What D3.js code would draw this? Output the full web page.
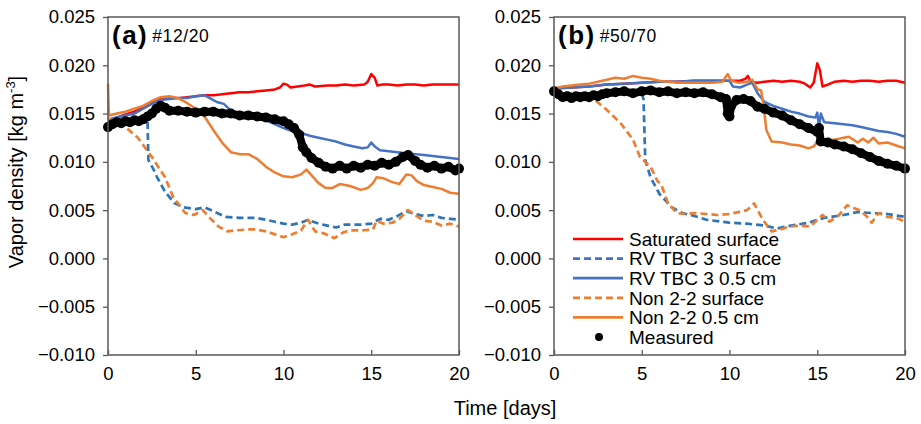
<!DOCTYPE html>
<html>
<head>
<meta charset="utf-8">
<script src="https://cdn.jsdelivr.net/npm/d3@7"></script>
<style>
  body { margin: 0; background: #fff; }
  text { font-family: "Liberation Sans", Arial, sans-serif; fill: #000; }
</style>
</head>
<body>
<svg id="chart" width="921" height="424"></svg>
<script>
// Data: [day, vapor density kg m-3]
const yTicks = [-0.010, -0.005, 0.000, 0.005, 0.010, 0.015, 0.020, 0.025];
const xTicks = [0, 5, 10, 15, 20];
const seriesNames = ['Saturated surface', 'RV TBC 3 surface', 'RV TBC 3 0.5 cm', 'Non 2-2 surface', 'Non 2-2 0.5 cm', 'Measured'];

// panel (a) #12/20
const satA = [[0,0.0143],[0.5,0.0146],[1,0.0149],[1.5,0.0152],[2,0.0156],[2.5,0.0161],[3,0.0165],[3.5,0.0166],[4,0.0166],[4.5,0.0167],[5,0.0168],[5.5,0.0169],[6,0.0169],[6.5,0.0170],[7,0.0171],[7.5,0.0172],[8,0.0172],[8.5,0.0173],[9,0.0174],[9.5,0.0175],[9.8,0.0177],[10,0.0181],[10.2,0.0180],[10.4,0.0177],[10.8,0.0178],[11.2,0.0179],[11.5,0.0180],[11.8,0.0178],[12.5,0.0179],[13,0.0179],[13.5,0.0180],[14,0.0179],[14.6,0.0180],[14.8,0.0183],[15,0.0191],[15.2,0.0187],[15.35,0.0179],[15.6,0.0180],[16,0.0180],[16.5,0.0179],[17,0.0180],[17.5,0.0180],[18,0.0179],[18.5,0.0180],[19,0.0180],[19.5,0.0180],[20,0.0180]];
const rvSurfA = [[0,0.0143],[0.5,0.0143],[1,0.0143],[1.5,0.0145],[2,0.0147],[2.25,0.0145],[2.3,0.0102],[2.6,0.0092],[2.8,0.0084],[3.25,0.0069],[3.8,0.0057],[4.3,0.0053],[5,0.0051],[5.5,0.0053],[6,0.0049],[6.7,0.0043],[7.5,0.0042],[8.4,0.0042],[9,0.0040],[10,0.0036],[10.5,0.0035],[11,0.0037],[11.4,0.0040],[12,0.0036],[12.5,0.0034],[13,0.0032],[13.5,0.0035],[14.4,0.0035],[15,0.0036],[15.5,0.0041],[16,0.0040],[16.5,0.0044],[17,0.0049],[17.5,0.0046],[18,0.0044],[18.5,0.0045],[19,0.0042],[19.5,0.0041],[20,0.0040]];
const rv05A = [[0,0.0144],[0.5,0.0146],[1,0.0148],[1.5,0.0150],[2,0.0155],[2.5,0.0160],[3,0.0164],[3.5,0.0165],[4,0.0166],[4.5,0.0166],[5,0.0168],[5.5,0.0169],[5.8,0.0166],[6.2,0.0162],[6.6,0.0160],[7,0.0153],[7.5,0.0150],[8,0.0148],[8.5,0.0146],[9,0.0143],[9.5,0.0139],[10,0.0135],[10.5,0.0132],[11,0.0130],[11.5,0.0127],[12,0.0125],[12.5,0.0123],[13,0.0121],[13.5,0.0118],[14,0.0116],[14.5,0.0114],[14.8,0.0115],[15,0.0120],[15.2,0.0116],[15.5,0.0112],[16,0.0111],[16.5,0.0110],[17,0.0109],[17.5,0.0108],[18,0.0107],[18.5,0.0106],[19,0.0105],[19.5,0.0104],[20,0.0103]];
const nonSurfA = [[0,0.0145],[0.5,0.0141],[1,0.0136],[1.7,0.0125],[2.5,0.0105],[3.25,0.0084],[3.7,0.0064],[4.4,0.0047],[4.9,0.0045],[5.4,0.0050],[5.8,0.0042],[6.3,0.0033],[6.8,0.0028],[7.2,0.0029],[8,0.0030],[8.4,0.0030],[9,0.0028],[9.5,0.0025],[10,0.0022],[10.5,0.0025],[11,0.0029],[11.4,0.0040],[11.8,0.0028],[12.3,0.0026],[12.9,0.0021],[13.4,0.0027],[13.8,0.0029],[14.4,0.0029],[15.1,0.0030],[15.3,0.0039],[15.7,0.0036],[16.2,0.0037],[16.6,0.0041],[17.1,0.0050],[17.5,0.0045],[18,0.0039],[18.5,0.0038],[19,0.0034],[19.5,0.0036],[20,0.0033]];
const non05A = [[0,0.0181],[0.05,0.0148],[0.5,0.0150],[1,0.0152],[1.5,0.0155],[2,0.0158],[2.5,0.0163],[3,0.0167],[3.5,0.0168],[4,0.0166],[4.5,0.0161],[5,0.0155],[5.5,0.0147],[6,0.0133],[6.5,0.0120],[7,0.0110],[7.5,0.0108],[8,0.0108],[8.5,0.0103],[9,0.0095],[9.5,0.0089],[10,0.0085],[10.5,0.0084],[11,0.0087],[11.3,0.0092],[11.6,0.0086],[12,0.0078],[12.4,0.0073],[12.8,0.0073],[13.2,0.0077],[13.8,0.0075],[14.4,0.0071],[14.8,0.0073],[15.1,0.0078],[15.3,0.0084],[15.7,0.0083],[16.2,0.0079],[16.6,0.0077],[17,0.0087],[17.3,0.0086],[17.6,0.0080],[18,0.0076],[18.5,0.0074],[19,0.0072],[19.5,0.0068],[20,0.0067]];
const measA = [[0,0.0136],[0.25,0.0139],[0.5,0.0141],[0.75,0.0140],[1,0.0142],[1.25,0.0141],[1.5,0.0143],[1.75,0.0142],[2,0.0144],[2.25,0.0147],[2.5,0.0150],[2.75,0.0155],[3,0.0158],[3.25,0.0156],[3.5,0.0153],[4,0.0153],[4.5,0.0152],[5,0.0151],[5.5,0.0152],[6,0.0152],[6.5,0.0150],[7,0.0150],[7.5,0.0148],[8,0.0148],[8.5,0.0147],[9,0.0146],[9.5,0.0144],[10,0.0142],[10.3,0.0139],[10.6,0.0135],[10.9,0.0128],[11.1,0.0115],[11.3,0.0110],[11.6,0.0104],[12,0.0099],[12.4,0.0095],[12.8,0.0093],[13.2,0.0096],[13.6,0.0093],[14,0.0096],[14.4,0.0094],[14.8,0.0097],[15.2,0.0096],[15.6,0.0099],[16,0.0097],[16.4,0.0100],[16.8,0.0105],[17.1,0.0107],[17.5,0.0101],[17.8,0.0097],[18.2,0.0094],[18.6,0.0096],[19,0.0093],[19.4,0.0095],[19.8,0.0091],[20,0.0093]];

// panel (b) #50/70
const satB = [[0,0.0176],[1,0.0177],[2,0.0178],[3,0.0180],[4,0.0181],[5,0.0182],[6,0.0183],[7,0.0183],[8,0.0184],[9,0.0184],[10,0.0184],[10.6,0.0184],[10.9,0.0186],[11.05,0.0189],[11.2,0.0183],[11.6,0.0182],[12,0.0183],[12.5,0.0184],[13,0.0183],[13.5,0.0184],[14,0.0183],[14.3,0.0181],[14.6,0.0177],[14.8,0.0182],[15,0.0202],[15.15,0.0195],[15.3,0.0178],[15.6,0.0180],[16,0.0183],[16.5,0.0184],[17,0.0183],[17.5,0.0184],[18,0.0184],[18.5,0.0183],[19,0.0184],[19.5,0.0184],[20,0.0182]];
const rvSurfB = [[0,0.0172],[1,0.0171],[2,0.0171],[3,0.0172],[4,0.0172],[5,0.0171],[5.1,0.0165],[5.2,0.0102],[5.5,0.0084],[6,0.0067],[6.7,0.0053],[7.3,0.0047],[8,0.0044],[8.7,0.0040],[10,0.0037],[11,0.0036],[12,0.0034],[12.7,0.0031],[13.5,0.0034],[14.5,0.0037],[15.4,0.0042],[16.5,0.0045],[17.3,0.0048],[18.1,0.0047],[19,0.0046],[20,0.0043]];
const rv05B = [[0,0.0176],[1,0.0177],[2,0.0178],[3,0.0180],[4,0.0181],[5,0.0182],[6,0.0183],[7,0.0183],[8,0.0184],[9,0.0184],[10,0.0184],[10.2,0.0178],[10.6,0.0177],[11,0.0180],[11.3,0.0182],[11.6,0.0171],[12,0.0162],[12.5,0.0158],[13,0.0155],[13.5,0.0152],[14,0.0150],[14.5,0.0147],[14.9,0.0146],[15,0.0151],[15.1,0.0136],[15.2,0.0150],[15.4,0.0141],[16,0.0140],[16.5,0.0139],[17,0.0138],[17.5,0.0136],[18,0.0134],[18.5,0.0132],[19,0.0131],[19.5,0.0129],[20,0.0126]];
const nonSurfB = [[0,0.0172],[1,0.0170],[2,0.0169],[2.2,0.0166],[3,0.0154],[3.8,0.0140],[4.5,0.0123],[4.9,0.0105],[5.5,0.0095],[5.9,0.0080],[6.1,0.0077],[6.5,0.0057],[7,0.0047],[7.5,0.0046],[8,0.0047],[8.7,0.0046],[9.3,0.0045],[10,0.0046],[10.5,0.0048],[11,0.0050],[11.4,0.0057],[11.9,0.0040],[12.4,0.0028],[12.9,0.0030],[13.4,0.0033],[14,0.0034],[14.6,0.0033],[15.3,0.0045],[15.7,0.0038],[16.2,0.0044],[16.7,0.0055],[17,0.0053],[17.4,0.0050],[17.8,0.0044],[18.1,0.0037],[18.5,0.0047],[19,0.0043],[19.5,0.0042],[20,0.0038]];
const non05B = [[0,0.0176],[0.5,0.0178],[1,0.0179],[1.5,0.0180],[2,0.0181],[2.5,0.0183],[3,0.0185],[3.5,0.0187],[4,0.0186],[4.5,0.0189],[5,0.0187],[5.5,0.0186],[6,0.0184],[6.5,0.0183],[7,0.0182],[8,0.0182],[9,0.0182],[9.6,0.0183],[9.9,0.0191],[10.1,0.0184],[10.5,0.0182],[11,0.0183],[11.3,0.0185],[11.6,0.0175],[11.8,0.0174],[11.95,0.0157],[12.1,0.0133],[12.4,0.0121],[13,0.0120],[13.5,0.0118],[14,0.0117],[14.5,0.0114],[14.8,0.0116],[15,0.0121],[15.4,0.0123],[16,0.0123],[16.5,0.0125],[16.8,0.0126],[17.3,0.0120],[17.6,0.0124],[17.9,0.0120],[18.2,0.0125],[18.5,0.0119],[19,0.0120],[19.5,0.0117],[20,0.0114]];
const measB = [[0,0.0173],[0.25,0.0170],[0.5,0.0167],[0.75,0.0168],[1,0.0166],[1.25,0.0168],[1.5,0.0167],[1.75,0.0168],[2,0.0167],[2.25,0.0169],[2.5,0.0168],[2.75,0.0170],[3,0.0171],[3.5,0.0172],[4,0.0173],[4.5,0.0171],[5,0.0173],[5.5,0.0174],[6,0.0172],[6.5,0.0173],[7,0.0171],[7.5,0.0172],[8,0.0171],[8.5,0.0172],[9,0.0170],[9.5,0.0167],[9.8,0.0165],[9.9,0.0150],[10,0.0147],[10.1,0.0158],[10.4,0.0164],[10.8,0.0165],[11.2,0.0163],[11.6,0.0157],[12,0.0155],[12.5,0.0151],[13,0.0148],[13.5,0.0143],[14,0.0139],[14.5,0.0135],[15,0.0131],[15.1,0.0135],[15.2,0.0121],[15.6,0.0120],[16,0.0118],[16.5,0.0116],[17,0.0113],[17.5,0.0109],[18,0.0105],[18.5,0.0101],[19,0.0098],[19.5,0.0096],[20,0.0093]];

const panels = [
  { tag: '(a)', id: '#12/20', left: 108, series: [satA, rvSurfA, rv05A, nonSurfA, non05A, measA], legend: false },
  { tag: '(b)', id: '#50/70', left: 554, series: [satB, rvSurfB, rv05B, nonSurfB, non05B, measB], legend: true }
];

// styles for the six series, same order as seriesNames
const styles = [
  { color: '#FF0000', dash: null, width: 2.5 },
  { color: '#2E75B6', dash: '7,4', width: 2.7 },
  { color: '#4472C4', dash: null, width: 2.5 },
  { color: '#ED7D31', dash: '7,4', width: 2.7 },
  { color: '#ED7D31', dash: null, width: 2.5 },
  { color: '#000000', dash: null, width: 0 }
];

const plotW = 351, plotTop = 17, plotBottom = 355;
const svg = d3.select('#chart');

const y = d3.scaleLinear().domain([-0.010, 0.025]).range([plotBottom, plotTop]);

panels.forEach(p => {
  const x = d3.scaleLinear().domain([0, 20]).range([p.left, p.left + plotW]);
  const g = svg.append('g');

  // y axis ticks outside, labels
  const yAxis = d3.axisLeft(y).tickValues(yTicks).tickFormat(d3.format('.3f')).tickSize(5).tickPadding(8);
  const ya = g.append('g').attr('transform', `translate(${p.left},0)`).call(yAxis);
  ya.select('.domain').remove();
  ya.selectAll('.tick line').attr('stroke', '#595959').attr('stroke-width', 1.3);
  ya.selectAll('.tick text').attr('font-size', '18.5px').attr('font-family', '"Liberation Sans", Arial, sans-serif').attr('fill', '#000');

  // x axis ticks inside
  const xAxis = d3.axisBottom(x).tickValues(xTicks).tickSize(-5).tickPadding(12);
  const xa = g.append('g').attr('transform', `translate(0,${plotBottom})`).call(xAxis);
  xa.select('.domain').remove();
  xa.selectAll('.tick line').attr('stroke', '#595959').attr('stroke-width', 1.3);
  xa.selectAll('.tick text').attr('font-size', '18.5px').attr('font-family', '"Liberation Sans", Arial, sans-serif').attr('fill', '#000').attr('dy', '0.71em');

  const line = d3.line().x(d => x(d[0])).y(d => y(d[1]));

  p.series.forEach((s, i) => {
    const st = styles[i];
    if (i === 5) {
      g.append('path').datum(s).attr('d', line)
        .attr('fill', 'none').attr('stroke', '#000').attr('stroke-width', 8)
        .attr('stroke-linejoin', 'round').attr('stroke-linecap', 'round');
      g.append('g').selectAll('circle').data(s).join('circle')
        .attr('cx', d => x(d[0])).attr('cy', d => y(d[1])).attr('r', 5).attr('fill', '#000');
    } else {
      g.append('path').datum(s).attr('d', line)
        .attr('fill', 'none').attr('stroke', st.color).attr('stroke-width', st.width)
        .attr('stroke-dasharray', st.dash).attr('stroke-linejoin', 'round');
    }
  });

  // frame
  g.append('rect').attr('x', p.left).attr('y', plotTop).attr('width', plotW).attr('height', plotBottom - plotTop)
    .attr('fill', 'none').attr('stroke', '#595959').attr('stroke-width', 1.5);

  // panel tag
  const t = g.append('text').attr('x', p.left + 4).attr('y', 44);
  t.append('tspan').attr('font-weight', 'bold').attr('font-size', '26px').attr('letter-spacing', '1.5px').text(p.tag);
  t.append('tspan').attr('dx', 4).attr('dy', -2).attr('font-size', '17.5px').attr('letter-spacing', '0.6px').text(p.id);

  if (p.legend) {
    const lg = g.append('g');
    seriesNames.forEach((name, i) => {
      const yy = 239 + i * 19.6;
      const st = styles[i];
      if (i === 5) {
        lg.append('circle').attr('cx', 599).attr('cy', yy).attr('r', 4).attr('fill', '#000');
      } else {
        lg.append('line').attr('x1', 573).attr('x2', 623).attr('y1', yy).attr('y2', yy)
          .attr('stroke', st.color === '#2E75B6' ? '#4472C4' : st.color)
          .attr('stroke-width', 2.7).attr('stroke-dasharray', st.dash);
      }
      lg.append('text').attr('x', 629).attr('y', yy + 6.8).attr('font-size', '19px').text(name);
    });
  }
});

// axis titles
svg.append('text').attr('x', 505).attr('y', 415).attr('text-anchor', 'middle')
  .attr('font-size', '20px').text('Time [days]');

const yl = svg.append('text').attr('transform', 'translate(23,172) rotate(-90)')
  .attr('text-anchor', 'middle').attr('font-size', '20px');
yl.append('tspan').text('Vapor density [kg m');
yl.append('tspan').attr('font-size', '13px').attr('dy', -8).text('-3');
yl.append('tspan').attr('dy', 8).text(']');
</script>
</body>
</html>
